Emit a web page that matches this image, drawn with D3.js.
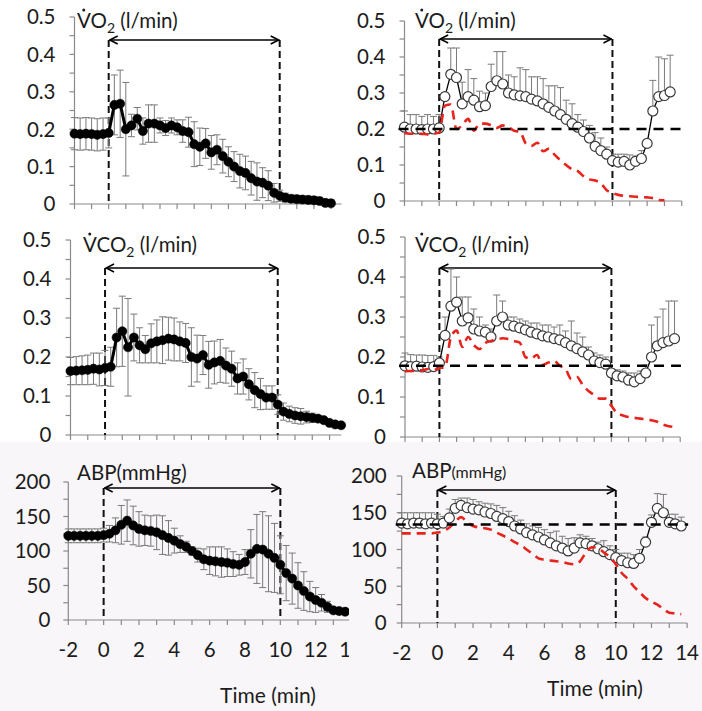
<!DOCTYPE html>
<html><head><meta charset="utf-8">
<script src="https://cdn.jsdelivr.net/npm/d3@7"></script>
<style>
body{margin:0;background:#fff}
svg{display:block}
text{font-family:Lato,"Open Sans",sans-serif;fill:#1c1c1c}
</style>
</head><body>
<svg id="chart" width="702" height="711"></svg>
<script>
// ---------------- DATA ----------------
const timeMin = [-2,-1.67,-1.33,-1,-0.67,-0.33,0,0.33,0.67,1,1.33,1.67,2,2.33,2.67,3,3.33,3.67,4,4.33,4.67,5,5.33,5.67,6,6.33,6.67,7,7.33,7.67,8,8.33,8.67,9,9.33,9.67,10,10.33,10.67,11,11.33,11.67,12,12.33,12.67,13,13.33,13.67];
const xTickLabels = [-2,0,2,4,6,8,10,12,14];

// left column (filled markers, mean ± SD); also shown as red dashed lines on the right
const vo2Mean = [0.188,0.187,0.188,0.187,0.185,0.187,0.19,0.265,0.268,0.2,0.21,0.228,0.195,0.215,0.215,0.21,0.203,0.21,0.205,0.195,0.192,0.16,0.153,0.162,0.138,0.145,0.128,0.113,0.1,0.088,0.083,0.069,0.06,0.057,0.049,0.03,0.022,0.017,0.014,0.013,0.012,0.011,0.01,0.008,0.003,0.002];
const vo2Sd = [0.043,0.043,0.043,0.043,0.043,0.043,0.04,0.08,0.09,0.125,0.03,0.03,0.035,0.05,0.05,0.02,0.02,0.02,0.02,0.03,0.04,0.06,0.05,0.04,0.045,0.04,0.045,0.04,0.04,0.045,0.045,0.045,0.05,0.04,0.04,0.025,0.015,0.012,0.01,0.01,0.01,0.01,0.01,0.01,0.01,0.01];
const vco2Mean = [0.164,0.165,0.166,0.167,0.17,0.168,0.172,0.175,0.25,0.266,0.225,0.25,0.23,0.22,0.235,0.24,0.243,0.247,0.245,0.24,0.236,0.2,0.196,0.205,0.18,0.186,0.19,0.178,0.17,0.145,0.15,0.13,0.115,0.105,0.096,0.096,0.078,0.06,0.054,0.05,0.048,0.046,0.044,0.042,0.038,0.031,0.027,0.025];
const vco2Sd = [0.035,0.036,0.037,0.038,0.04,0.042,0.045,0.05,0.075,0.09,0.125,0.06,0.045,0.035,0.05,0.055,0.06,0.055,0.055,0.05,0.05,0.075,0.06,0.05,0.06,0.055,0.055,0.045,0.045,0.04,0.045,0.04,0.045,0.04,0.03,0.03,0.025,0.022,0.02,0.02,0.02,0.015,0.012,0.008,0.005,0.004,0.003,0.003];
const abpMean = [122,122,122,122,122,122,123,125,130,138,144,137,132,130,129,127,123,119,115,110,106,100,94,88,86,85,84,83,81,80,84,96,103,102,96,90,80,68,60,50,42,34,29,25,19,14,13,12];
const abpSd = [10,10,10,10,10,10,10,12,18,28,30,28,25,22,22,25,28,25,18,12,8,6,10,15,20,21,22,20,18,15,18,35,50,55,55,50,42,40,37,33,28,22,18,12,8,3,2,2];

// right column (open markers, mean + SD)
const vo2ExpMean = [0.205,0.2,0.2,0.198,0.2,0.2,0.203,0.29,0.352,0.343,0.27,0.29,0.28,0.262,0.265,0.318,0.334,0.325,0.3,0.295,0.292,0.29,0.283,0.278,0.27,0.26,0.25,0.24,0.227,0.215,0.205,0.193,0.175,0.152,0.14,0.13,0.112,0.108,0.11,0.1,0.11,0.118,0.16,0.25,0.29,0.293,0.303];
const vo2ExpSd = [0.045,0.04,0.04,0.037,0.04,0.035,0.037,0.01,0.073,0.082,0.06,0.075,0.06,0.043,0.035,0.062,0.081,0.09,0.05,0.05,0.078,0.075,0.062,0.067,0.07,0.06,0.07,0.075,0.053,0.055,0.035,0.032,0.035,0.038,0.035,0.02,0.018,0.022,0.02,0.028,0.015,0.022,0.01,0.085,0.11,0.102,0.102];
const vco2ExpMean = [0.178,0.176,0.177,0.175,0.174,0.176,0.185,0.254,0.327,0.337,0.29,0.298,0.27,0.265,0.262,0.25,0.29,0.3,0.28,0.277,0.273,0.268,0.262,0.258,0.253,0.25,0.246,0.243,0.236,0.228,0.221,0.213,0.205,0.19,0.186,0.182,0.16,0.153,0.15,0.142,0.138,0.146,0.16,0.2,0.228,0.236,0.24,0.246];
const vco2ExpSd = [0.032,0.03,0.028,0.03,0.03,0.028,0.015,0.046,0.093,0.063,0.06,0.052,0.05,0.035,0.018,0.02,0.065,0.04,0.02,0.023,0.022,0.022,0.023,0.027,0.027,0.03,0.029,0.037,0.029,0.062,0.039,0.037,0.02,0.02,0.019,0.018,0.01,0.015,0.015,0.018,0.022,0.019,0.02,0.08,0.072,0.084,0.1,0.094];
const abpExpMean = [136,135,136,136,135,136,135,136,143,156,160,157,155,154,151,149,145,142,138,132,128,123,120,117,113,109,105,102,98,102,109,108,105,101,97,93,89,85,82,81,88,110,137,156,150,137,135,132];
const abpExpSd = [14,15,14,14,15,14,13,9,12,12,10,13,13,11,12,13,15,15,14,14,12,12,12,13,14,14,20,16,17,14,11,10,10,9,15,12,11,10,13,12,12,7,10,20,25,11,13,12];

// pre-exposure reference levels (horizontal dashed lines, right column)
const refLevels = {vo2:0.2, vco2:0.178, abp:134};
const stimulusWindow = [0, 10];

// ---------------- DRAW ----------------
const svg = d3.select("#chart");
svg.append("rect").attr("x",0).attr("y",442).attr("width",702).attr("height",269).attr("fill","#f8f6f8");

const defs = svg.append("defs");
defs.append("marker").attr("id","ah").attr("viewBox","0 0 10 10").attr("refX",9).attr("refY",5)
  .attr("markerWidth",10).attr("markerHeight",10).attr("markerUnits","userSpaceOnUse")
  .attr("orient","auto-start-reverse")
  .append("path").attr("d","M1,1 L9,5 L1,9").attr("fill","none").attr("stroke","#000").attr("stroke-width",1.6);
defs.append("clipPath").attr("id","clipL").append("rect").attr("x",0).attr("y",0).attr("width",349).attr("height",711);

function series(mean, sd){ return mean.map((m,i)=>({t:timeMin[i], m, sd:sd[i]})); }

const panels = [
 {left:74.5,k:17.1,yB:204,yT:17,yMax:0.5,minor:0.05,major:0.1,tEnd:13.62,arrowY:40,title:"VO2",tx:77,ty:28,
  data:series(vo2Mean,vo2Sd),filled:true,lab:19},
 {left:404.5,k:17.33,yB:201,yT:21,yMax:0.5,minor:0.05,major:0.1,tEnd:14,arrowY:39,title:"VO2",tx:415,ty:28,
  data:series(vo2ExpMean,vo2ExpSd),filled:false,red:series(vo2Mean,vo2Sd),ref:refLevels.vo2,lab:19},
 {left:70.5,k:17.27,yB:435,yT:240,yMax:0.5,minor:0.05,major:0.1,tEnd:13.68,arrowY:268,title:"VCO2",tx:83,ty:252,
  data:series(vco2Mean,vco2Sd),filled:true,lab:19},
 {left:405,k:17.2,yB:437,yT:237,yMax:0.5,minor:0.05,major:0.1,tEnd:14,arrowY:268,title:"VCO2",tx:415,ty:252,
  data:series(vco2ExpMean,vco2ExpSd),filled:false,red:series(vco2Mean,vco2Sd),ref:refLevels.vco2,lab:19},
 {left:68.3,k:17.67,yB:620,yT:482,yMax:200,minor:25,major:50,tEnd:14.3,arrowY:488,title:"ABPL",tx:77,ty:480,
  data:series(abpMean,abpSd),filled:true,xlabels:true,timeX:268,timeY:703,clip:true,lab:18},
 {left:401.7,k:17.84,yB:623,yT:476,yMax:200,minor:25,major:50,tEnd:14,arrowY:490,title:"ABPR",tx:412,ty:478,
  data:series(abpExpMean,abpExpSd),filled:false,red:series(abpMean,abpSd),ref:refLevels.abp,xlabels:true,timeX:595,timeY:696,lab:15}
];

panels.forEach(p=>{
  const g = svg.append("g");
  if(p.clip) g.attr("clip-path","url(#clipL)");
  const x = d3.scaleLinear().domain([-2,14]).range([p.left, p.left+16*p.k]);
  const y = d3.scaleLinear().domain([0,p.yMax]).range([p.yB,p.yT]);
  const ax = x(-2);
  const axisCol = "#8a8a8a";
  // y axis
  g.append("line").attr("x1",ax).attr("x2",ax).attr("y1",y(0)).attr("y2",y(p.yMax)).attr("stroke",axisCol).attr("stroke-width",1.2);
  d3.range(0,p.yMax+1e-9,p.minor).forEach(v=>{
    g.append("line").attr("x1",ax-5).attr("x2",ax).attr("y1",y(v)).attr("y2",y(v)).attr("stroke",axisCol).attr("stroke-width",1.2);
  });
  const fmt = p.yMax>1 ? d3.format("d") : (v=> v===0?"0":d3.format(".1f")(v));
  d3.range(0,p.yMax+1e-9,p.major).forEach(v=>{
    g.append("text").attr("x",ax-p.lab).attr("y",y(v)).attr("dy","0.36em").attr("text-anchor","end")
      .attr("font-size",20.5).text(fmt(v));
  });
  // x axis
  g.append("line").attr("x1",ax).attr("x2",x(p.tEnd)).attr("y1",y(0)).attr("y2",y(0)).attr("stroke",axisCol).attr("stroke-width",1.2);
  d3.range(-2,Math.floor(p.tEnd)+1,1).forEach(t=>{
    g.append("line").attr("x1",x(t)).attr("x2",x(t)).attr("y1",y(0)).attr("y2",y(0)+5).attr("stroke",axisCol).attr("stroke-width",1.2);
  });
  if(p.xlabels){
    xTickLabels.forEach(t=>{
      g.append("text").attr("x",x(t)).attr("y",y(0)+37).attr("text-anchor","middle").attr("font-size",20.5).text(t);
    });
    svg.append("text").attr("x",p.timeX).attr("y",p.timeY).attr("text-anchor","middle").attr("font-size",21).text("Time (min)");
  }
  // stimulus window: dashed verticals + double arrow
  stimulusWindow.forEach(t=>{
    g.append("line").attr("x1",x(t)).attr("x2",x(t)).attr("y1",p.arrowY).attr("y2",y(0))
      .attr("stroke","#111").attr("stroke-width",2).attr("stroke-dasharray","7,4");
  });
  g.append("line").attr("x1",x(stimulusWindow[0])+1).attr("x2",x(stimulusWindow[1])-1).attr("y1",p.arrowY).attr("y2",p.arrowY)
    .attr("stroke","#000").attr("stroke-width",1.6).attr("marker-start","url(#ah)").attr("marker-end","url(#ah)");
  // error bars
  const eb = g.append("g").attr("stroke","#7a7a7a").attr("stroke-width",1);
  p.data.forEach(d=>{
    const top = y(d.m+d.sd), bot = p.filled ? y(Math.max(0,d.m-d.sd)) : y(d.m);
    eb.append("line").attr("x1",x(d.t)).attr("x2",x(d.t)).attr("y1",top).attr("y2",bot);
    eb.append("line").attr("x1",x(d.t)-3.5).attr("x2",x(d.t)+3.5).attr("y1",top).attr("y2",top);
    if(p.filled) eb.append("line").attr("x1",x(d.t)-3.5).attr("x2",x(d.t)+3.5).attr("y1",bot).attr("y2",bot);
  });
  // series line + markers
  const line = d3.line().x(d=>x(d.t)).y(d=>y(d.m));
  g.append("path").datum(p.data).attr("d",line).attr("fill","none").attr("stroke","#000").attr("stroke-width",p.filled?3:1.3);
  g.selectAll("circle.mk").data(p.data).join("circle").attr("class","mk")
    .attr("cx",d=>x(d.t)).attr("cy",d=>y(d.m)).attr("r",p.filled?4.6:5)
    .attr("fill",p.filled?"#000":"#fff").attr("stroke",p.filled?"#000":"#3a3a3a").attr("stroke-width",p.filled?0.5:1.2);
  if(p.red){
    g.append("path").datum(p.red).attr("d",line.curve(d3.curveMonotoneX)).attr("fill","none")
      .attr("stroke","#e8231c").attr("stroke-width",2.6).attr("stroke-dasharray","9,6");
  }
  if(p.ref!==undefined){
    g.append("line").attr("x1",ax-6).attr("x2",x(14)+1).attr("y1",y(p.ref)).attr("y2",y(p.ref))
      .attr("stroke","#000").attr("stroke-width",2.4).attr("stroke-dasharray","10,7");
  }
  // titles
  if(p.title==="VO2"||p.title==="VCO2"){
    const t = svg.append("text").attr("x",p.tx).attr("y",p.ty).attr("font-size",20.5);
    t.append("tspan").attr("class","vv").text("V");
    t.append("tspan").text(p.title==="VO2"?"O":"CO");
    t.append("tspan").attr("font-size",14).attr("dy",5).text("2");
    t.append("tspan").attr("dy",-5).text(" (l/min)");
    const vw = t.select(".vv").node().getComputedTextLength();
    svg.append("circle").attr("cx",p.tx+vw/2).attr("cy",p.ty-18).attr("r",1.5).attr("fill","#1c1c1c");
  } else if(p.title==="ABPL"){
    svg.append("text").attr("x",p.tx).attr("y",p.ty).attr("font-size",20.5).text("ABP(mmHg)");
  } else {
    const t = svg.append("text").attr("x",p.tx).attr("y",p.ty).attr("font-size",20.5);
    t.append("tspan").text("ABP");
    t.append("tspan").attr("font-size",16).text("(mmHg)");
  }
});
</script>
</body></html>
